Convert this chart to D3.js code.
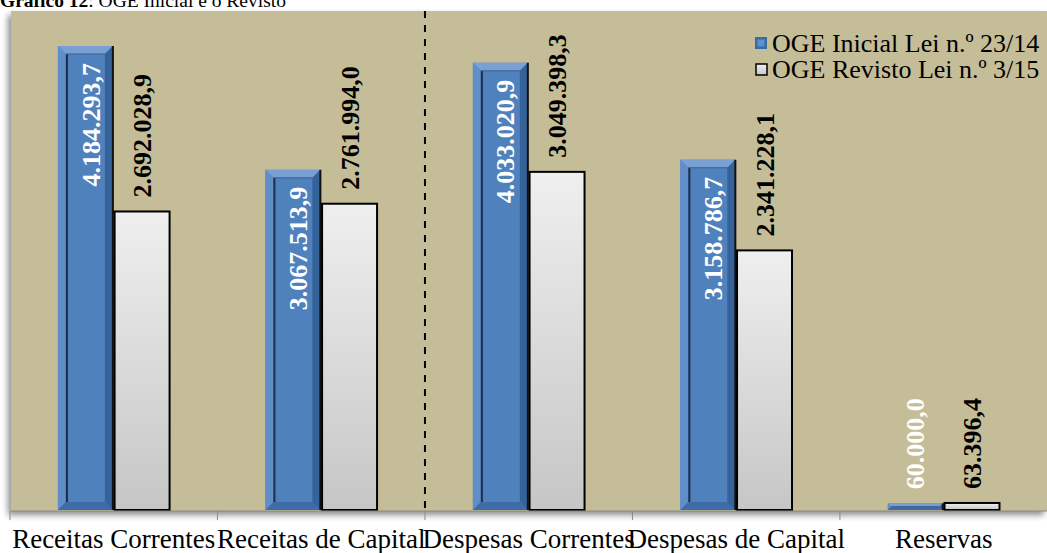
<!DOCTYPE html>
<html>
<head>
<meta charset="utf-8">
<script src="https://cdn.jsdelivr.net/npm/d3@7"></script>
<style>
  html, body { margin: 0; padding: 0; background: #fff; }
  svg { display: block; }
  svg text { font-family: "Liberation Serif", "Times New Roman", serif; }
</style>
</head>
<body>
<svg id="chart"></svg>
<script>
const categories = ["Receitas Correntes", "Receitas de Capital", "Despesas Correntes", "Despesas de Capital", "Reservas"];
const seriesNames = ["OGE Inicial Lei n.º 23/14", "OGE Revisto Lei n.º 3/15"];
const inicial = [4184293.7, 3067513.9, 4033020.9, 3158786.7, 60000.0];
const revisto = [2692028.9, 2761994.0, 3049398.3, 2341228.1, 63396.4];

const width = 1047, height = 553;
const plot = { left: 11, top: 11, right: 1047, bottom: 511 };

const svg = d3.select("#chart").attr("width", width).attr("height", height);
const defs = svg.append("defs");

const fmt = d3.formatLocale({ decimal: ",", thousands: ".", grouping: [3], currency: ["", ""] }).format(",.1f");

// shadow + gradient
const shadow = defs.append("filter").attr("id", "shadow")
  .attr("x", "-5%").attr("y", "-5%").attr("width", "110%").attr("height", "115%");
shadow.append("feDropShadow").attr("dx", -3).attr("dy", 4).attr("stdDeviation", 3)
  .attr("flood-color", "#000").attr("flood-opacity", 0.45);

const grad = defs.append("linearGradient").attr("id", "whiteGrad")
  .attr("x1", 0).attr("y1", 0).attr("x2", 0).attr("y2", 1);
grad.append("stop").attr("offset", "0%").attr("stop-color", "#efefef");
grad.append("stop").attr("offset", "100%").attr("stop-color", "#c6c6c6");

// title (cut off at the top)
const title = svg.append("text").attr("x", 0).attr("y", 7).attr("font-size", 19.5).attr("fill", "#000");
title.append("tspan").attr("font-weight", "bold").text("Gráfico 12");
title.append("tspan").text(": OGE Inicial e o Revisto");

// plot area
svg.append("rect")
  .attr("x", plot.left).attr("y", plot.top)
  .attr("width", plot.right - plot.left).attr("height", plot.bottom - plot.top)
  .attr("fill", "#c4bd97")
  .attr("filter", "url(#shadow)");

const x = d3.scaleBand().domain(categories).range([10, 1047.4]).padding(0);
const xs = d3.scaleBand().domain([0, 1]).range([0, x.bandwidth()]).paddingInner(0.03).paddingOuter(0.845);
const y = d3.scaleLinear().domain([0, 4500000]).range([510, plot.top]);

// dashed separator between receitas and despesas
svg.append("line")
  .attr("x1", x(categories[2])).attr("x2", x(categories[2]))
  .attr("y1", plot.top).attr("y2", y(0))
  .attr("stroke", "#000").attr("stroke-width", 2).attr("stroke-dasharray", "7,7");

// beveled blue bar
function blueBar(g, bx, by, bw, bh) {
  const b = Math.min(8, bw / 2, bh / 2);
  g.append("rect").attr("x", bx).attr("y", by).attr("width", bw).attr("height", bh).attr("fill", "#4f81bd");
  if (bh < 3) return;
  const poly = (pts, fill) => g.append("polygon").attr("points", pts.map(p => p.join(",")).join(" ")).attr("fill", fill);
  const x0 = bx, x1 = bx + bw, y0 = by, y1 = by + bh;
  poly([[x0, y0], [x1, y0], [x1 - b, y0 + b], [x0 + b, y0 + b]], "#7aa0d3");
  poly([[x0, y0], [x0 + b, y0 + b], [x0 + b, y1 - b], [x0, y1]], "#5f8ecb");
  poly([[x1, y0], [x1, y1], [x1 - b, y1 - b], [x1 - b, y0 + b]], "#36629a");
  poly([[x0, y1], [x0 + b, y1 - b], [x1 - b, y1 - b], [x1, y1]], "#3f6ca6");
  g.append("line").attr("x1", x0 + b + 1).attr("x2", x0 + b + 1).attr("y1", y0 + b).attr("y2", y1 - b)
    .attr("stroke", "#1b2d47").attr("stroke-width", 2);
  g.append("line").attr("x1", x0 + b).attr("x2", x1 - b).attr("y1", y0 + b).attr("y2", y0 + b)
    .attr("stroke", "#3a5f90").attr("stroke-width", 1);
  g.append("line").attr("x1", x1).attr("x2", x1).attr("y1", y0).attr("y2", y1)
    .attr("stroke", "#111").attr("stroke-width", 2);
}

const groups = svg.selectAll(".cat")
  .data(categories)
  .enter()
  .append("g")
  .attr("class", "cat")
  .attr("transform", d => `translate(${x(d)},0)`);

groups.each(function (d, i) {
  const g = d3.select(this);
  const bw = xs.bandwidth();
  // blue
  const bTop = y(inicial[i]);
  blueBar(g, xs(0), bTop, bw, y(0) - bTop);
  // white
  const wTop = y(revisto[i]);
  g.append("rect")
    .attr("x", xs(1)).attr("y", wTop)
    .attr("width", bw).attr("height", y(0) - wTop)
    .attr("fill", "url(#whiteGrad)")
    .attr("stroke", "#000").attr("stroke-width", 2);

  // labels
  const bh = y(0) - bTop;
  const cxB = xs(0) + bw / 2 + 5, cxW = xs(1) + bw / 2;
  const bLabel = g.append("text")
    .attr("font-size", 26).attr("font-weight", "bold").attr("fill", "#fff")
    .attr("dy", "0.35em")
    .text(fmt(inicial[i]));
  if (bh > 150) {
    bLabel.attr("text-anchor", "end").attr("transform", `translate(${cxB},${bTop + 17}) rotate(-90)`);
  } else {
    bLabel.attr("text-anchor", "start").attr("transform", `translate(${cxB - 5},${bTop - 14}) rotate(-90)`);
  }
  g.append("text")
    .attr("font-size", 26).attr("font-weight", "bold").attr("fill", "#000")
    .attr("dy", "0.35em").attr("text-anchor", "start")
    .attr("transform", `translate(${cxW},${wTop - 14}) rotate(-90)`)
    .text(fmt(revisto[i]));
});

// x axis
const axis = svg.append("g").attr("transform", `translate(0,${plot.bottom})`);
axis.append("line").attr("x1", x.range()[0]).attr("x2", plot.right).attr("y1", 0).attr("y2", 0)
  .attr("stroke", "#8a8a8a").attr("stroke-width", 1);
axis.selectAll(".tick")
  .data(categories)
  .enter()
  .append("line")
  .attr("class", "tick")
  .attr("x1", d => x(d)).attr("x2", d => x(d))
  .attr("y1", 0).attr("y2", 9)
  .attr("stroke", "#8a8a8a");
axis.selectAll(".lbl")
  .data(categories)
  .enter()
  .append("text")
  .attr("class", "lbl")
  .attr("x", d => x(d) + x.bandwidth() / 2)
  .attr("y", 37)
  .attr("text-anchor", "middle")
  .attr("font-size", 27)
  .attr("fill", "#000")
  .text(d => d);

// legend
const legend = svg.append("g").attr("transform", "translate(755,0)");
legend.append("rect").attr("x", 0).attr("y", 37).attr("width", 12).attr("height", 12).attr("fill", "#3a6aa5");
legend.append("rect").attr("x", 2.5).attr("y", 39.5).attr("width", 7).attr("height", 7).attr("fill", "#5d8fd0");
legend.append("rect").attr("x", 1).attr("y", 64).attr("width", 11).attr("height", 11)
  .attr("fill", "url(#whiteGrad)").attr("stroke", "#000").attr("stroke-width", 1.5);
legend.selectAll(".ltxt")
  .data(seriesNames)
  .enter()
  .append("text")
  .attr("class", "ltxt")
  .attr("x", 17)
  .attr("y", (d, i) => 52 + i * 26)
  .attr("font-size", 26)
  .attr("fill", "#000")
  .text(d => d);
</script>
</body>
</html>
